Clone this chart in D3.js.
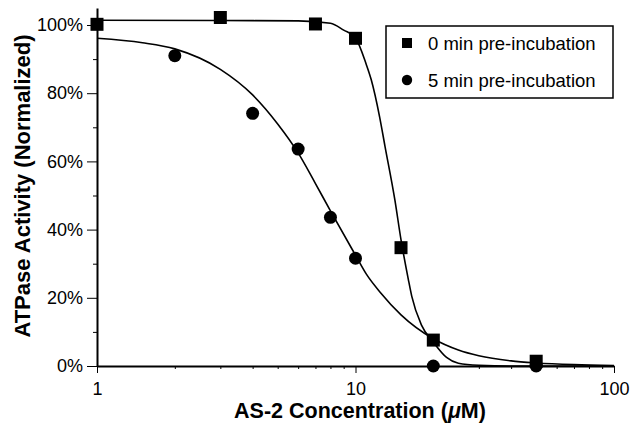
<!DOCTYPE html>
<html>
<head>
<meta charset="utf-8">
<script src="https://cdn.jsdelivr.net/npm/d3@7"></script>
<style>
body { margin: 0; background: #fff; }
svg { display: block; font-family: "Liberation Sans", Arial, Helvetica, sans-serif; }
</style>
</head>
<body>
<svg class="chart" width="631" height="424"></svg>
<script>
"use strict";
// measured points, 0 min pre-incubation (squares)
var conc0 = [1, 3, 7, 10, 15, 20, 50];
var act0 = [1.002, 1.022, 1.003, 0.961, 0.347, 0.076, 0.014];
// measured points, 5 min pre-incubation (circles)
var conc5 = [2, 4, 6, 8, 10, 20, 50];
var act5 = [0.910, 0.741, 0.636, 0.436, 0.316, 0.0, 0.0];
// fitted curves
var fitConc0 = [1, 3, 6, 8, 9, 10, 11, 11.5, 12.4, 13, 14.2, 15, 16, 16.5, 18, 20, 22.5, 25, 30, 40, 100];
var fitAct0 = [1.014, 1.013, 1.012, 1.005, 0.985, 0.962, 0.885, 0.84, 0.73, 0.645, 0.487, 0.37, 0.255, 0.205, 0.12, 0.07, 0.025, 0.008, 0.002, 0, 0];
var fitConc5 = [1, 1.5, 2, 3, 4, 5, 6, 7, 8, 10, 11, 12.5, 15, 20, 25, 30, 40, 50, 70, 100];
var fitAct5 = [0.961, 0.948, 0.93, 0.87, 0.795, 0.71, 0.625, 0.535, 0.455, 0.325, 0.27, 0.215, 0.15, 0.08, 0.047, 0.03, 0.015, 0.009, 0.004, 0.0015];
// axis ticks and labels
var xMajor = [1, 10, 100];
var xMinor = [2, 3, 4, 5, 6, 7, 8, 9, 20, 30, 40, 50, 60, 70, 80, 90];
var yMajor = [0, 0.2, 0.4, 0.6, 0.8, 1.0];
var yMinor = [0.1, 0.3, 0.5, 0.7, 0.9];
var legendLabels = ["0 min pre-incubation", "5 min pre-incubation"];

var svg = d3.select(".chart");

var x = d3.scaleLog().domain([1, 100]).range([97, 614]);
var y = d3.scaleLinear().domain([0, 1.05]).range([366, 366 - 1.05 * 341]);

// minor ticks first so axis lines sit on top
svg.append("g")
	.attr("transform", "translate(0," + y(0) + ")")
	.call(d3.axisBottom(x).tickValues(xMinor).tickSize(3).tickFormat(""))
	.call(function(g) { g.select(".domain").remove(); });
svg.append("g")
	.attr("transform", "translate(" + x(1) + ",0)")
	.call(d3.axisLeft(y).tickValues(yMinor).tickSize(4).tickFormat(""))
	.call(function(g) { g.select(".domain").remove(); });

var xAxis = svg.append("g")
	.attr("transform", "translate(0," + y(0) + ")")
	.call(d3.axisBottom(x).tickValues(xMajor).tickSize(7).tickSizeOuter(0).tickPadding(9).tickFormat(d3.format("d")));
var yAxis = svg.append("g")
	.attr("transform", "translate(" + x(1) + ",0)")
	.call(d3.axisLeft(y).tickValues(yMajor).tickSize(10).tickSizeOuter(0).tickPadding(4).tickFormat(d3.format(".0%")));

[xAxis, yAxis].forEach(function(g) {
	g.select(".domain").attr("stroke-width", 2);
	g.selectAll("text").attr("font-size", 18).attr("fill", "#000")
		.attr("font-family", "\"Liberation Sans\", Arial, sans-serif");
});

// axis titles
svg.append("text")
	.attr("x", 360)
	.attr("y", 418)
	.attr("text-anchor", "middle")
	.attr("font-size", 21.5)
	.attr("font-weight", "bold")
	.html("AS-2 Concentration (<tspan font-style=\"italic\">\u03bc</tspan>M)");
svg.append("text")
	.attr("transform", "translate(30,186) rotate(-90)")
	.attr("text-anchor", "middle")
	.attr("font-size", 22)
	.attr("font-weight", "bold")
	.text("ATPase Activity (Normalized)");

// fitted curves
var line = d3.line()
	.x(function(d) { return x(d[0]); })
	.y(function(d) { return y(d[1]); })
	.curve(d3.curveMonotoneX);
svg.append("path")
	.datum(d3.zip(fitConc0, fitAct0))
	.attr("d", line)
	.attr("fill", "none")
	.attr("stroke", "#000")
	.attr("stroke-width", 1.6);
svg.append("path")
	.datum(d3.zip(fitConc5, fitAct5))
	.attr("d", line)
	.attr("fill", "none")
	.attr("stroke", "#000")
	.attr("stroke-width", 1.6);

// data markers
var sq = 13;
svg.selectAll("rect.pt")
	.data(d3.zip(conc0, act0))
	.enter()
	.append("rect")
	.attr("class", "pt")
	.attr("x", function(d) { return x(d[0]) - sq / 2; })
	.attr("y", function(d) { return y(d[1]) - sq / 2; })
	.attr("width", sq)
	.attr("height", sq)
	.attr("fill", "#000");
svg.selectAll("circle.pt")
	.data(d3.zip(conc5, act5))
	.enter()
	.append("circle")
	.attr("class", "pt")
	.attr("cx", function(d) { return x(d[0]); })
	.attr("cy", function(d) { return y(d[1]); })
	.attr("r", 6.5)
	.attr("fill", "#000");

// legend
var legend = svg.append("g").attr("transform", "translate(386,26)");
legend.append("rect")
	.attr("width", 227)
	.attr("height", 72)
	.attr("fill", "#fff")
	.attr("stroke", "#000")
	.attr("stroke-width", 1.5);
var legendEntry = legend.selectAll("g")
	.data(legendLabels)
	.enter()
	.append("g")
	.attr("transform", function(d, i) { return "translate(0," + (17 + i * 37) + ")"; });
legendEntry.filter(function(d, i) { return i == 0; })
	.append("rect")
	.attr("x", 16)
	.attr("y", -5)
	.attr("width", 10)
	.attr("height", 10)
	.attr("fill", "#000");
legendEntry.filter(function(d, i) { return i == 1; })
	.append("circle")
	.attr("cx", 21)
	.attr("cy", 0)
	.attr("r", 5.2)
	.attr("fill", "#000");
legendEntry.append("text")
	.attr("x", 42)
	.attr("y", 7)
	.attr("font-size", 18.5)
	.text(function(d) { return d; });
</script>
</body>
</html>
